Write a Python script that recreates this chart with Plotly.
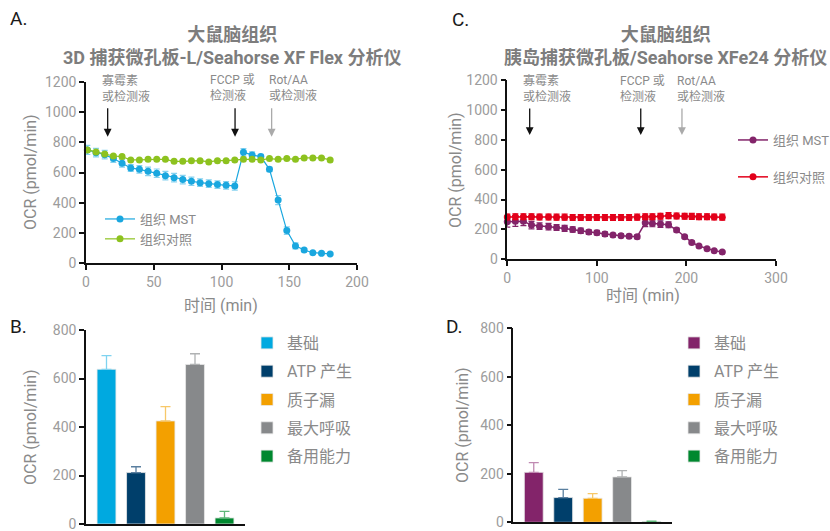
import plotly.graph_objects as go

W, H = 830, 531
FONT = "Roboto, 'Noto Sans CJK SC', sans-serif"
GREY = "#8a8a8a"
TICK = "#9c9c9c"

# ---------------- data ----------------
A_time = [1, 7.4, 13.8, 20.2, 26.6, 33, 39.4, 45.8, 52.2, 58.6, 65, 71.4, 77.8, 84.2, 90.6,
          97, 103.4, 109.8, 116.2, 122.6, 129, 135.4, 141.8, 148.2, 154.6, 161, 167.4, 173.8, 180.2]
A_mst = [749, 731, 718, 692, 661, 630, 621, 608, 595, 579, 566, 553, 542, 533, 526,
         520, 515, 511, 733, 716, 705, 621, 418, 216, 115, 88, 70, 66, 62]
A_mst_err = [30, 28, 28, 25, 25, 22, 25, 28, 28, 28, 28, 28, 28, 25, 25,
             25, 25, 28, 25, 20, 15, 15, 30, 25, 20, 10, 8, 8, 8]
A_ctrl = [749, 736, 722, 709, 705, 683, 683, 687, 687, 687, 674, 674, 678, 678, 670,
          678, 678, 683, 687, 687, 683, 692, 687, 692, 687, 696, 696, 696, 683]
A_ctrl_err = [6] * 29

C_time = [0, 9, 18, 27, 36, 46, 55, 64, 73, 82, 91, 100, 109, 118, 127, 136, 145,
          154, 162, 171, 180, 189, 198, 206, 214, 223, 231, 240]
C_mst = [251, 255, 255, 229, 222, 218, 213, 207, 200, 191, 182, 178, 169, 162, 158, 155, 151,
         244, 240, 236, 231, 196, 151, 113, 89, 71, 58, 49]
C_mst_err = [35, 35, 30, 25, 22, 22, 20, 20, 18, 18, 15, 15, 15, 12, 12, 12, 12,
             25, 22, 22, 20, 12, 10, 8, 6, 5, 5, 4]
C_ctrl = [283, 285, 285, 285, 283, 283, 282, 282, 280, 280, 280, 280, 280, 280, 280, 280, 282,
          285, 285, 288, 292, 290, 288, 287, 285, 285, 283, 282]
C_ctrl_err = [20] * 28

categories = ["基础", "ATP 产生", "质子漏", "最大呼吸", "备用能力"]
B_vals = [638, 212, 425, 658, 25]
B_err = [56, 24, 59, 44, 27]
D_vals = [206, 102, 99, 187, 3]
D_err = [40, 34, 19, 26, 2]
B_colors = ["#00a9e0", "#003f6b", "#f3a000", "#87898b", "#00882f"]
D_colors = ["#83246a", "#003f6b", "#f3a000", "#87898b", "#00882f"]
B_err_colors = ["#7fd3f0", "#5a7f9f", "#f7c869", "#b0b2b3", "#5fb87a"]
D_err_colors = ["#c08ab2", "#5a7f9f", "#f7c869", "#b0b2b3", "#5fb87a"]

A_inj_time = [16, 110, 137]
C_inj_time = [25, 149, 195]
inj_texts = ["寡霉素<br>或检测液", "FCCP 或<br>检测液", "Rot/AA<br>或检测液"]
A_text_x = [10.3, 89.7, 133.3]
C_text_x = [15.3, 123.6, 187.2]
arrow_colors = ["#111111", "#111111", "#aaaaaa"]

# ---------------- figure ----------------
fig = go.Figure()

fig.add_trace(go.Scatter(x=A_time, y=A_mst, mode="lines+markers", name="组织 MST",
                         line=dict(color="#1aa7df", width=1.2),
                         marker=dict(color="#1aa7df", size=7),
                         error_y=dict(type="data", array=A_mst_err, color="#86d2f0", thickness=1.2, width=3),
                         xaxis="x", yaxis="y", legend="legend", cliponaxis=False))
fig.add_trace(go.Scatter(x=A_time, y=A_ctrl, mode="lines+markers", name="组织对照",
                         line=dict(color="#8dc21f", width=1.2),
                         marker=dict(color="#8dc21f", size=7),
                         error_y=dict(type="data", array=A_ctrl_err, color="#bddf83", thickness=1, width=2),
                         xaxis="x", yaxis="y", legend="legend", cliponaxis=False))

fig.add_trace(go.Scatter(x=C_time, y=C_mst, mode="lines+markers", name="组织 MST",
                         line=dict(color="#83246a", width=1.5),
                         marker=dict(color="#83246a", size=7),
                         error_y=dict(type="data", array=C_mst_err, color="#83246a", thickness=1.2, width=3),
                         xaxis="x2", yaxis="y2", legend="legend2", legendgroup="c1", cliponaxis=False))
fig.add_trace(go.Scatter(x=C_time, y=C_ctrl, mode="lines+markers", name="组织对照",
                         line=dict(color="#e2001a", width=1.5),
                         marker=dict(color="#e2001a", size=7),
                         error_y=dict(type="data", array=C_ctrl_err, color="#e2001a", thickness=1.2, width=3),
                         xaxis="x2", yaxis="y2", legend="legend2", legendgroup="c2", cliponaxis=False))

for i, cat in enumerate(categories):
    fig.add_trace(go.Bar(x=[i], y=[B_vals[i]], name=cat, width=0.64,
                         marker=dict(color=B_colors[i], line=dict(color="#e8e8e8", width=0.8)),
                         error_y=dict(type="data", array=[B_err[i]], arrayminus=[0], symmetric=False,
                                      color=B_err_colors[i], thickness=1.3, width=5),
                         xaxis="x3", yaxis="y3", legend="legend3", legendgroup="b%d" % i))
for i, cat in enumerate(categories):
    fig.add_trace(go.Bar(x=[i], y=[D_vals[i]], name=cat, width=0.64,
                         marker=dict(color=D_colors[i], line=dict(color="#e8e8e8", width=0.8)),
                         error_y=dict(type="data", array=[D_err[i]], arrayminus=[0], symmetric=False,
                                      color=D_err_colors[i], thickness=1.3, width=5),
                         xaxis="x4", yaxis="y4", legend="legend4", legendgroup="d%d" % i))


def px_x(p):
    return p / W


def px_y(p):
    return 1 - p / H


axis_common = dict(showgrid=False, zeroline=False, showline=True, linecolor="#111", linewidth=1.5,
                   ticks="outside", ticklen=5, tickwidth=1.5, tickcolor="#111", automargin=False,
                   ticklabeloverflow="allow",
                   tickfont=dict(family=FONT, size=14, color=TICK))

fig.update_layout(
    width=W, height=H, margin=dict(l=0, r=0, t=0, b=0, autoexpand=False),
    paper_bgcolor="white", plot_bgcolor="white",
    font=dict(family=FONT, color=GREY),
    barmode="overlay",
    xaxis=dict(domain=[px_x(86), px_x(357)], range=[0, 200], anchor="y", tickvals=[0, 50, 100, 150, 200], **axis_common),
    yaxis=dict(domain=[px_y(263.3), px_y(81.7)], range=[0, 1200], anchor="x", dtick=200, **axis_common),
    xaxis2=dict(domain=[px_x(507.3), px_x(776)], range=[0, 300], anchor="y2", tickvals=[0, 100, 200, 300], **axis_common),
    yaxis2=dict(domain=[px_y(259.3), px_y(80)], range=[0, 1200], anchor="x2", dtick=200, **axis_common),
    xaxis3=dict(domain=[px_x(86), px_x(245)], range=[-0.695, 4.695], anchor="y3", showgrid=False, zeroline=False,
                showline=True, linecolor="#111", linewidth=1.5, showticklabels=False, ticks="", automargin=False),
    yaxis3=dict(domain=[px_y(524), px_y(330)], range=[0, 800], anchor="x3", dtick=200, **axis_common),
    xaxis4=dict(domain=[px_x(513.3), px_x(672)], range=[-0.695, 4.695], anchor="y4", showgrid=False, zeroline=False,
                showline=True, linecolor="#111", linewidth=1.5, showticklabels=False, ticks="", automargin=False),
    yaxis4=dict(domain=[px_y(522.3), px_y(328.3)], range=[0, 800], anchor="x4", dtick=200, **axis_common),
    legend=dict(x=px_x(100), y=px_y(204), xanchor="left", yanchor="top", bgcolor="rgba(0,0,0,0)",
                font=dict(family=FONT, size=13, color=GREY), itemclick=False),
    legend2=dict(x=px_x(733), y=px_y(125), xanchor="left", yanchor="top", bgcolor="rgba(0,0,0,0)",
                 font=dict(family=FONT, size=13, color=GREY), traceorder="grouped", tracegroupgap=17),
    legend3=dict(x=px_x(247), y=px_y(326), xanchor="left", yanchor="top", bgcolor="rgba(0,0,0,0)",
                 font=dict(family=FONT, size=16, color=GREY), traceorder="grouped", tracegroupgap=4.5),
    legend4=dict(x=px_x(674), y=px_y(326), xanchor="left", yanchor="top", bgcolor="rgba(0,0,0,0)",
                 font=dict(family=FONT, size=16, color=GREY), traceorder="grouped", tracegroupgap=4.5),
)

ann = []
# panel labels
for lab, x, y in [("A.", 8, 18), ("C.", 450, 19), ("B.", 8, 326), ("D.", 444, 326)]:
    ann.append(dict(text=lab, x=px_x(x), y=px_y(y), xref="paper", yref="paper", xanchor="left", yanchor="middle",
                    showarrow=False, font=dict(family=FONT, size=19, color="#1a1a1a")))
# titles
ann.append(dict(text="大鼠脑组织<br>3D 捕获微孔板-L/Seahorse XF Flex 分析仪", x=px_x(232), y=px_y(46),
                xref="paper", yref="paper", xanchor="center", yanchor="middle", showarrow=False,
                font=dict(family=FONT, size=18, color="#7d7d7d", weight="bold")))
ann.append(dict(text="大鼠脑组织<br>胰岛捕获微孔板/Seahorse XFe24 分析仪", x=px_x(665), y=px_y(46),
                xref="paper", yref="paper", xanchor="center", yanchor="middle", showarrow=False,
                font=dict(family=FONT, size=18, color="#7d7d7d", weight="bold")))
# axis titles
for x, y in [(30, 172), (30, 427), (455, 170), (462, 425)]:
    ann.append(dict(text="OCR (pmol/min)", x=px_x(x), y=px_y(y), xref="paper", yref="paper", textangle=-90,
                    xanchor="center", yanchor="middle", showarrow=False, font=dict(family=FONT, size=16, color=GREY)))
for x, y in [(221, 305), (643, 295)]:
    ann.append(dict(text="时间 (min)", x=px_x(x), y=px_y(y), xref="paper", yref="paper",
                    xanchor="center", yanchor="middle", showarrow=False, font=dict(family=FONT, size=16, color=GREY)))
# injection labels and arrows
for i in range(3):
    ann.append(dict(text=inj_texts[i], x=A_text_x[i], y=1156, xref="x", yref="y", xanchor="left", yanchor="middle",
                    align="left", showarrow=False, font=dict(family=FONT, size=12, color=GREY)))
    ann.append(dict(text="", x=A_inj_time[i], y=837, xref="x", yref="y", showarrow=True, ax=0, ay=-30,
                    arrowhead=2, arrowsize=1.2, arrowwidth=1.3, arrowcolor=arrow_colors[i]))
    ann.append(dict(text=inj_texts[i], x=C_text_x[i], y=1140, xref="x2", yref="y2", xanchor="left", yanchor="middle",
                    align="left", showarrow=False, font=dict(family=FONT, size=12, color=GREY)))
    ann.append(dict(text="", x=C_inj_time[i], y=832, xref="x2", yref="y2", showarrow=True, ax=0, ay=-28,
                    arrowhead=2, arrowsize=1.2, arrowwidth=1.3, arrowcolor=arrow_colors[i]))

fig.update_layout(annotations=ann)
fig.write_html("out.html", config={"displayModeBar": False},
               post_script="document.body.style.margin='0';document.body.style.overflow='hidden';")
